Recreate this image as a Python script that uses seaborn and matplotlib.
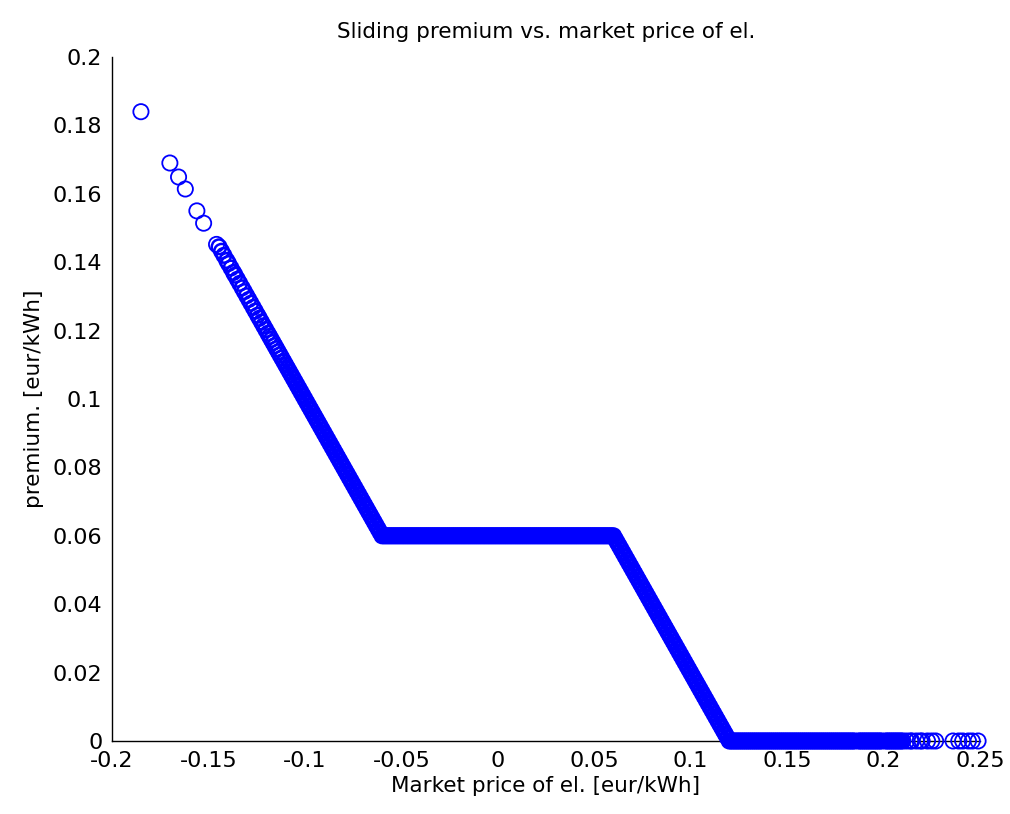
import matplotlib
matplotlib.use("Agg")
import matplotlib.pyplot as plt
import seaborn as sns
import pandas as pd

# ---- data ----
# sparse points at the top-left (market price, premium)
x_top = [-0.185, -0.170, -0.1655, -0.162, -0.156, -0.1525, -0.1458]
y_top = [0.184, 0.169, 0.1649, 0.1614, 0.155, 0.1514, 0.1452]

# upper diagonal, less dense part
x_d1a = [-0.1445, -0.1432, -0.1420, -0.1405, -0.1396, -0.1383, -0.1370, -0.1362,
         -0.1350, -0.1338, -0.1325, -0.1314, -0.1302, -0.1291, -0.1280, -0.1268,
         -0.1257, -0.1245, -0.1236, -0.1225, -0.1214, -0.1203, -0.1192, -0.1183,
         -0.1174, -0.1165, -0.1156, -0.1147, -0.1138, -0.1129, -0.1120]
y_d1a = [0.1445, 0.1432, 0.1420, 0.1405, 0.1396, 0.1383, 0.1370, 0.1362,
         0.1350, 0.1338, 0.1325, 0.1314, 0.1302, 0.1291, 0.1280, 0.1268,
         0.1257, 0.1245, 0.1236, 0.1225, 0.1214, 0.1203, 0.1192, 0.1183,
         0.1174, 0.1165, 0.1156, 0.1147, 0.1138, 0.1129, 0.1120]

# upper diagonal, dense part
x_d1b = [-0.111, -0.110, -0.109, -0.108, -0.107, -0.106, -0.105, -0.104, -0.103,
         -0.102, -0.101, -0.100, -0.099, -0.098, -0.097, -0.096, -0.095, -0.094,
         -0.093, -0.092, -0.091, -0.090, -0.089, -0.088, -0.087, -0.086, -0.085,
         -0.084, -0.083, -0.082, -0.081, -0.080, -0.079, -0.078, -0.077, -0.076,
         -0.075, -0.074, -0.073, -0.072, -0.071, -0.070, -0.069, -0.068, -0.067,
         -0.066, -0.065, -0.064, -0.063, -0.062, -0.061, -0.060]
y_d1b = [0.111, 0.110, 0.109, 0.108, 0.107, 0.106, 0.105, 0.104, 0.103,
         0.102, 0.101, 0.100, 0.099, 0.098, 0.097, 0.096, 0.095, 0.094,
         0.093, 0.092, 0.091, 0.090, 0.089, 0.088, 0.087, 0.086, 0.085,
         0.084, 0.083, 0.082, 0.081, 0.080, 0.079, 0.078, 0.077, 0.076,
         0.075, 0.074, 0.073, 0.072, 0.071, 0.070, 0.069, 0.068, 0.067,
         0.066, 0.065, 0.064, 0.063, 0.062, 0.061, 0.060]

# flat premium plateau
x_flat = [-0.059, -0.058, -0.057, -0.056, -0.055, -0.054, -0.053, -0.052, -0.051, -0.050,
          -0.049, -0.048, -0.047, -0.046, -0.045, -0.044, -0.043, -0.042, -0.041, -0.040,
          -0.039, -0.038, -0.037, -0.036, -0.035, -0.034, -0.033, -0.032, -0.031, -0.030,
          -0.029, -0.028, -0.027, -0.026, -0.025, -0.024, -0.023, -0.022, -0.021, -0.020,
          -0.019, -0.018, -0.017, -0.016, -0.015, -0.014, -0.013, -0.012, -0.011, -0.010,
          -0.009, -0.008, -0.007, -0.006, -0.005, -0.004, -0.003, -0.002, -0.001, 0.000,
          0.001, 0.002, 0.003, 0.004, 0.005, 0.006, 0.007, 0.008, 0.009, 0.010,
          0.011, 0.012, 0.013, 0.014, 0.015, 0.016, 0.017, 0.018, 0.019, 0.020,
          0.021, 0.022, 0.023, 0.024, 0.025, 0.026, 0.027, 0.028, 0.029, 0.030,
          0.031, 0.032, 0.033, 0.034, 0.035, 0.036, 0.037, 0.038, 0.039, 0.040,
          0.041, 0.042, 0.043, 0.044, 0.045, 0.046, 0.047, 0.048, 0.049, 0.050,
          0.051, 0.052, 0.053, 0.054, 0.055, 0.056, 0.057, 0.058, 0.059]
y_flat = [0.06, 0.06, 0.06, 0.06, 0.06, 0.06, 0.06, 0.06, 0.06, 0.06,
          0.06, 0.06, 0.06, 0.06, 0.06, 0.06, 0.06, 0.06, 0.06, 0.06,
          0.06, 0.06, 0.06, 0.06, 0.06, 0.06, 0.06, 0.06, 0.06, 0.06,
          0.06, 0.06, 0.06, 0.06, 0.06, 0.06, 0.06, 0.06, 0.06, 0.06,
          0.06, 0.06, 0.06, 0.06, 0.06, 0.06, 0.06, 0.06, 0.06, 0.06,
          0.06, 0.06, 0.06, 0.06, 0.06, 0.06, 0.06, 0.06, 0.06, 0.06,
          0.06, 0.06, 0.06, 0.06, 0.06, 0.06, 0.06, 0.06, 0.06, 0.06,
          0.06, 0.06, 0.06, 0.06, 0.06, 0.06, 0.06, 0.06, 0.06, 0.06,
          0.06, 0.06, 0.06, 0.06, 0.06, 0.06, 0.06, 0.06, 0.06, 0.06,
          0.06, 0.06, 0.06, 0.06, 0.06, 0.06, 0.06, 0.06, 0.06, 0.06,
          0.06, 0.06, 0.06, 0.06, 0.06, 0.06, 0.06, 0.06, 0.06, 0.06,
          0.06, 0.06, 0.06, 0.06, 0.06, 0.06, 0.06, 0.06, 0.06]

# lower diagonal
x_d2 = [0.060, 0.061, 0.062, 0.063, 0.064, 0.065, 0.066, 0.067, 0.068, 0.069,
        0.070, 0.071, 0.072, 0.073, 0.074, 0.075, 0.076, 0.077, 0.078, 0.079,
        0.080, 0.081, 0.082, 0.083, 0.084, 0.085, 0.086, 0.087, 0.088, 0.089,
        0.090, 0.091, 0.092, 0.093, 0.094, 0.095, 0.096, 0.097, 0.098, 0.099,
        0.100, 0.101, 0.102, 0.103, 0.104, 0.105, 0.106, 0.107, 0.108, 0.109,
        0.110, 0.111, 0.112, 0.113, 0.114, 0.115, 0.116, 0.117, 0.118, 0.119, 0.120]
y_d2 = [0.060, 0.059, 0.058, 0.057, 0.056, 0.055, 0.054, 0.053, 0.052, 0.051,
        0.050, 0.049, 0.048, 0.047, 0.046, 0.045, 0.044, 0.043, 0.042, 0.041,
        0.040, 0.039, 0.038, 0.037, 0.036, 0.035, 0.034, 0.033, 0.032, 0.031,
        0.030, 0.029, 0.028, 0.027, 0.026, 0.025, 0.024, 0.023, 0.022, 0.021,
        0.020, 0.019, 0.018, 0.017, 0.016, 0.015, 0.014, 0.013, 0.012, 0.011,
        0.010, 0.009, 0.008, 0.007, 0.006, 0.005, 0.004, 0.003, 0.002, 0.001, 0.000]

# zero premium for high prices (dense part)
x_zero = [0.121, 0.122, 0.123, 0.124, 0.125, 0.126, 0.127, 0.128, 0.129, 0.130,
          0.131, 0.132, 0.133, 0.134, 0.135, 0.136, 0.137, 0.138, 0.139, 0.140,
          0.141, 0.142, 0.143, 0.144, 0.145, 0.146, 0.147, 0.148, 0.149, 0.150,
          0.151, 0.152, 0.153, 0.154, 0.155, 0.156, 0.157, 0.158, 0.159, 0.160,
          0.161, 0.162, 0.163, 0.164, 0.165, 0.166, 0.167, 0.168, 0.169, 0.170,
          0.171, 0.172, 0.173, 0.174, 0.175, 0.176, 0.177, 0.178, 0.179, 0.180,
          0.181, 0.182, 0.183, 0.184, 0.185, 0.187, 0.188, 0.189, 0.190,
          0.191, 0.192, 0.193, 0.194, 0.195, 0.196, 0.197, 0.198, 0.199, 0.201,
          0.202, 0.203, 0.204, 0.205, 0.206, 0.207, 0.208, 0.209, 0.210]
y_zero = [0, 0, 0, 0, 0, 0, 0, 0, 0, 0,
          0, 0, 0, 0, 0, 0, 0, 0, 0, 0,
          0, 0, 0, 0, 0, 0, 0, 0, 0, 0,
          0, 0, 0, 0, 0, 0, 0, 0, 0, 0,
          0, 0, 0, 0, 0, 0, 0, 0, 0, 0,
          0, 0, 0, 0, 0, 0, 0, 0, 0, 0,
          0, 0, 0, 0, 0, 0, 0, 0, 0,
          0, 0, 0, 0, 0, 0, 0, 0, 0, 0,
          0, 0, 0, 0, 0, 0, 0, 0, 0]

# zero premium, sparse tail
x_tail = [0.212, 0.214, 0.2146, 0.217, 0.219, 0.220, 0.2228, 0.225, 0.227,
          0.236, 0.239, 0.241, 0.244, 0.246, 0.249]
y_tail = [0, 0, 0, 0, 0, 0, 0, 0, 0,
          0, 0, 0, 0, 0, 0]

x_ticks = [-0.2, -0.15, -0.1, -0.05, 0, 0.05, 0.1, 0.15, 0.2, 0.25]
x_ticklabels = ["-0.2", "-0.15", "-0.1", "-0.05", "0", "0.05", "0.1", "0.15", "0.2", "0.25"]
y_ticks = [0, 0.02, 0.04, 0.06, 0.08, 0.1, 0.12, 0.14, 0.16, 0.18, 0.2]
y_ticklabels = ["0", "0.02", "0.04", "0.06", "0.08", "0.1", "0.12", "0.14", "0.16", "0.18", "0.2"]

title = "Sliding premium vs. market price of el."
xlabel = "Market price of el. [eur/kWh]"
ylabel = "premium. [eur/kWh]"

df_sparse = pd.DataFrame({"price": x_top + x_tail, "premium": y_top + y_tail})
df_mid = pd.DataFrame({"price": x_d1a, "premium": y_d1a})
df_dense = pd.DataFrame({
    "price": x_d1b + x_flat + x_d2 + x_zero,
    "premium": y_d1b + y_flat + y_d2 + y_zero,
})

# ---- plot ----
sns.set_theme(style="white")
plt.rcParams["font.family"] = ["DejaVu Sans"]

fig = plt.figure(figsize=(10.10, 8.14), dpi=100)
ax = fig.add_axes([0.1109, 0.0897, 0.8594, 0.8403])

blue = "#0000ff"
sns.scatterplot(data=df_sparse, x="price", y="premium", ax=ax, marker="o",
                s=120, facecolors="none", edgecolor=blue, linewidth=1.3,
                clip_on=False, legend=False)
sns.scatterplot(data=df_mid, x="price", y="premium", ax=ax, marker="o",
                s=110, facecolors="none", edgecolor=blue, linewidth=1.8,
                clip_on=False, legend=False)
sns.scatterplot(data=df_dense, x="price", y="premium", ax=ax, marker="o",
                s=100, facecolors="none", edgecolor=blue, linewidth=2.3,
                clip_on=False, legend=False)

ax.set_xlim(-0.2, 0.25)
ax.set_ylim(0, 0.2)
ax.set_xticks(x_ticks)
ax.set_xticklabels(x_ticklabels)
ax.set_yticks(y_ticks)
ax.set_yticklabels(y_ticklabels)

for side in ["top", "right"]:
    ax.spines[side].set_visible(False)
for side in ["left", "bottom"]:
    ax.spines[side].set_color("black")
    ax.spines[side].set_linewidth(1.0)
    ax.spines[side].set_zorder(0.5)

ax.tick_params(axis="both", direction="in", length=6, width=1.0, colors="black",
               labelsize=16, pad=7)
ax.set_title(title, fontsize=15.5, color="black", pad=14)
ax.set_xlabel(xlabel, fontsize=15.5, color="black", labelpad=4)
ax.set_ylabel(ylabel, fontsize=15.5, color="black", labelpad=6)

fig.savefig("out.png", dpi=100)
